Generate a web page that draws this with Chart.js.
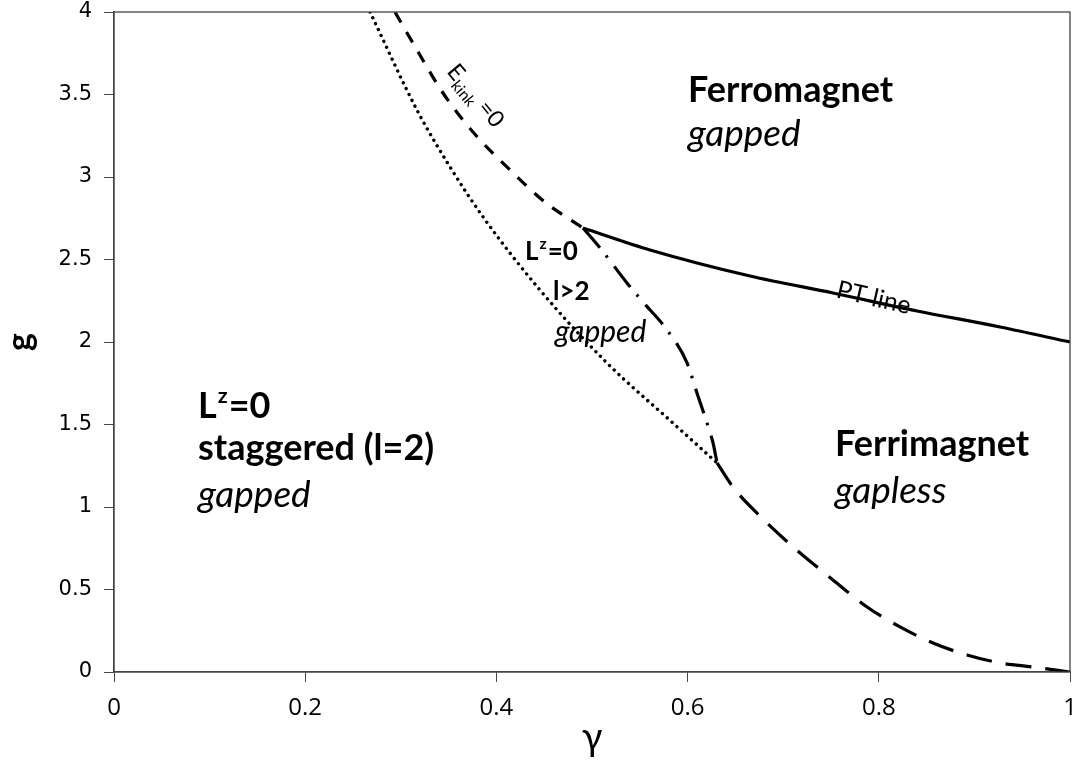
<!DOCTYPE html>
<html><head><meta charset="utf-8">
<script src="https://cdn.jsdelivr.net/npm/chart.js@4.4.1/dist/chart.umd.min.js"></script>
<style>html,body{margin:0;padding:0;background:#fff}#wrap{width:1078px;height:769px}</style>
</head><body><div id="wrap"><canvas id="c" width="1078" height="769"></canvas></div>
<script>
// Data (gamma, g)
const dottedX = [0.2678,0.3169,0.3515,0.386,0.4456,0.5157,0.5847,0.6308];
const dottedY = [4.0,3.406,3.061,2.758,2.315,1.873,1.509,1.267];
const kinkX = [0.2939,0.3169,0.3441,0.3755,0.4121,0.4508,0.4906];
const kinkY = [4.0,3.770,3.509,3.273,3.055,2.848,2.691];
const dashDotX = [0.4906,0.5084,0.5366,0.5534,0.5785,0.5994,0.6098,0.6203,0.6266,0.6308];
const dashDotY = [2.691,2.570,2.358,2.242,2.073,1.873,1.691,1.509,1.388,1.267];
const lowerX = [0.6308,0.6475,0.6757,0.7103,0.7521,0.7877,0.8222,0.8567,0.8923,0.9268,0.9613,1.0];
const lowerY = [1.267,1.121,0.945,0.758,0.558,0.394,0.273,0.176,0.103,0.055,0.030,0.0];
const ptX = [0.4906,0.5607,0.6653,0.7521,0.84,0.9268,1.0];
const ptY = [2.691,2.558,2.40,2.297,2.188,2.091,2.0];
const xTicks = [0,0.2,0.4,0.6,0.8,1];
const yTicks = [0,0.5,1,1.5,2,2.5,3,3.5,4];

const pts = (xs,ys)=>xs.map((x,i)=>({x:x,y:ys[i]}));
const FONT = 'Lato, "Open Sans", sans-serif';

// Annotation texts: [x, y(baseline), segments, style, rotationDeg, align]
const notes = [
  [0.6004,3.455,[{t:'Ferromagnet'}],'bold 36px',0,'left'],
  [0.6004,3.190,[{t:'gapped'}],'italic 37px',0,'left'],
  [0.7542,1.310,[{t:'Ferrimagnet'}],'bold 36px',0,'left'],
  [0.7542,1.024,[{t:'gapless'}],'italic 37px',0,'left'],
  [0.0879,1.540,[{t:'L'},{t:'z',s:1},{t:'=0'}],'bold 36px',0,'left'],
  [0.0879,1.285,[{t:'staggered (l=2)'}],'bold 36px',0,'left'],
  [0.0879,1.000,[{t:'gapped'}],'italic 37px',0,'left'],
  [0.4299,2.497,[{t:'L'},{t:'z',s:1},{t:'=0'}],'bold 26px',0,'left'],
  [0.4592,2.255,[{t:'l>2'}],'bold 26px',0,'left'],
  [0.4613,2.000,[{t:'gapped'}],'italic 30px',0,'left'],
  [0.3473,3.636,[{t:'E'},{t:'kink',b:1},{t:' =0'}],'23px',50,'left'],
  [0.7929,2.220,[{t:'PT line'}],'25px',13,'center']
];

const notePlugin = {
  id:'notes',
  afterDatasetsDraw(chart){
    const ctx = chart.ctx, xs = chart.scales.x, ys = chart.scales.y, a = chart.chartArea;
    ctx.save();
    ctx.strokeStyle = '#444'; ctx.lineWidth = 1.3;
    ctx.strokeRect(a.left, a.top, a.right-a.left, a.bottom-a.top);
    ctx.fillStyle = '#000';
    notes.forEach(n=>{
      const px = xs.getPixelForValue(n[0]), py = ys.getPixelForValue(n[1]);
      const style = n[3]; const size = parseFloat(style.match(/(\d+)px/)[1]);
      const base = style.replace(/\d+px/,'');
      ctx.save();
      ctx.translate(px,py); ctx.rotate(n[4]*Math.PI/180);
      ctx.textBaseline = 'alphabetic'; ctx.textAlign='left';
      const szOf = sg => sg.s ? size*0.6 : (sg.b ? size*0.68 : size);
      let total = 0;
      n[2].forEach(sg=>{ ctx.font = base+' '+szOf(sg)+'px '+FONT; total += ctx.measureText(sg.t).width; });
      let cx = n[5]==='center' ? -total/2 : 0;
      n[2].forEach(sg=>{
        ctx.font = base+' '+szOf(sg)+'px '+FONT;
        const dy = sg.s ? -size*0.42 : (sg.b ? size*0.25 : 0);
        ctx.fillText(sg.t, cx + (sg.s?1:0), dy);
        cx += ctx.measureText(sg.t).width + (sg.s?2:0);
      });
      ctx.restore();
    });
    ctx.restore();
  }
};

const common = {showLine:true, pointRadius:0, borderColor:'#000', fill:false, cubicInterpolationMode:'monotone'};
new Chart(document.getElementById('c'), {
  type:'scatter',
  data:{datasets:[
    Object.assign({data:pts(dottedX,dottedY), borderWidth:3.4, borderDash:[0.01,6.5], borderCapStyle:'round'}, common),
    Object.assign({data:pts(kinkX,kinkY), borderWidth:3.2, borderDash:[12,11]}, common),
    Object.assign({data:pts(dashDotX,dashDotY), borderWidth:3.2, borderDash:[26,10,2.5,11]}, common),
    Object.assign({data:pts(lowerX,lowerY), borderWidth:3.2, borderDash:[26,14]}, common),
    Object.assign({data:pts(ptX,ptY), borderWidth:3.2}, common)
  ]},
  options:{
    responsive:false, animation:false,
    layout:{padding:{top:12,right:8,left:0,bottom:0}},
    plugins:{legend:{display:false}, tooltip:{enabled:false}},
    scales:{
      x:{type:'linear', min:0, max:1,
        afterBuildTicks(s){ s.ticks = xTicks.map(v=>({value:v})); },
        afterFit(s){ s.height = 97; s.paddingLeft = 0; s.paddingRight = 0; },
        grid:{drawOnChartArea:false, drawTicks:true, tickLength:10, color:'#444', tickColor:'#444'},
        border:{color:'#444', width:1.3},
        ticks:{color:'#000', font:{family:'"Liberation Sans Narrow", "Open Sans", sans-serif', size:24}, padding:12, maxRotation:0, callback:v=>String(v)},
        title:{display:true, text:'γ', color:'#000', font:{family:FONT, size:38}, padding:{top:0,bottom:8}}
      },
      y:{type:'linear', min:0, max:4,
        afterBuildTicks(s){ s.ticks = yTicks.map(v=>({value:v})); },
        afterFit(s){ s.width = 114; s.paddingTop = 0; s.paddingBottom = 0; },
        grid:{drawOnChartArea:false, drawTicks:true, tickLength:10, color:'#444', tickColor:'#444'},
        border:{color:'#444', width:1.3},
        ticks:{color:'#000', font:{family:'"DejaVu Sans", sans-serif', size:21}, padding:12, callback:v=>String(v)},
        title:{display:true, text:'g', color:'#000', font:{family:FONT, size:34, weight:'bold'}, padding:{top:0,bottom:0}}
      }
    }
  },
  plugins:[notePlugin]
});
</script></body></html>
